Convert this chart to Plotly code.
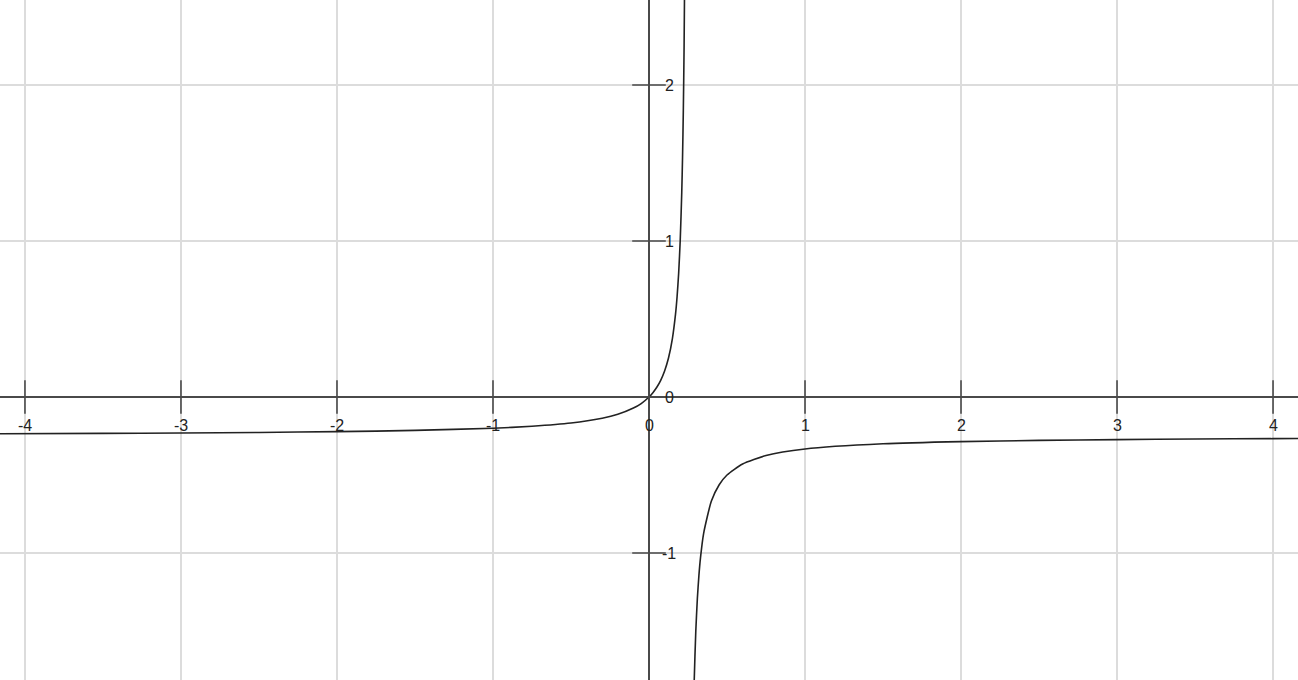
import plotly.graph_objects as go

# Curve points (two branches around the vertical asymptote near x≈0.25)
left_x = [-4.2, -3.5, -3.0, -2.5, -2.0, -1.5, -1.0, -0.75, -0.5, -0.3, -0.2, -0.1, -0.05,
          0.0, 0.025, 0.05, 0.075, 0.1, 0.125, 0.15, 0.17, 0.18, 0.19, 0.2, 0.21, 0.215,
          0.22, 0.225, 0.23]
left_y = [-0.236, -0.233, -0.231, -0.227, -0.222, -0.214, -0.2, -0.1875, -0.167, -0.136,
          -0.111, -0.071, -0.042, 0.0, 0.028, 0.0625, 0.107, 0.167, 0.25, 0.375, 0.531,
          0.643, 0.792, 1.0, 1.3125, 1.536, 1.833, 2.25, 2.875]

right_x = [0.27, 0.28, 0.29, 0.3, 0.31, 0.32, 0.33, 0.35, 0.4, 0.45, 0.5, 0.6, 0.75,
           1.0, 1.5, 2.0, 2.5, 3.0, 3.5, 4.0, 4.2]
right_y = [-3.375, -2.333, -1.8125, -1.5, -1.292, -1.143, -1.031, -0.875, -0.667, -0.5625,
           -0.5, -0.429, -0.375, -0.333, -0.3, -0.286, -0.278, -0.273, -0.269, -0.267, -0.266]

x_ticks = [-4, -3, -2, -1, 0, 1, 2, 3, 4]
x_tick_labels = ["-4", "-3", "-2", "-1", "0", "1", "2", "3", "4"]
y_ticks = [-1, 0, 1, 2]
y_tick_labels = ["-1", "0", "1", "2"]

x_range = [-4.16, 4.16]
y_range = [-1.814, 2.545]

axis_color = "#4a4a4a"
grid_color = "#dcdcdc"
font_family = "Liberation Sans, Arial, sans-serif"

fig = go.Figure()

for bx, by in [(left_x, left_y), (right_x, right_y)]:
    fig.add_trace(go.Scatter(x=bx, y=by, mode="lines", line=dict(color="#222222", width=1.6, shape="spline", smoothing=0.6),
                             hoverinfo="skip", showlegend=False, cliponaxis=True))

# tick marks on the axes
fig.add_trace(go.Scatter(x=x_ticks, y=[0] * len(x_ticks), mode="markers",
                         marker=dict(symbol="line-ns", size=24, line=dict(color=axis_color, width=1.6)),
                         hoverinfo="skip", showlegend=False))
fig.add_trace(go.Scatter(x=[0] * len(y_ticks), y=y_ticks, mode="markers",
                         marker=dict(symbol="line-ew", size=24, line=dict(color=axis_color, width=1.6)),
                         hoverinfo="skip", showlegend=False))

annotations = []
for v, t in zip(x_ticks, x_tick_labels):
    annotations.append(dict(x=v, y=0, xref="x", yref="y", text=t, showarrow=False,
                            yshift=-28, font=dict(family=font_family, size=16, color="#222222")))
for v, t in zip(y_ticks, y_tick_labels):
    annotations.append(dict(x=0, y=v, xref="x", yref="y", text=t, showarrow=False,
                            xshift=20, font=dict(family=font_family, size=16, color="#222222")))

fig.update_layout(
    width=1298, height=680,
    margin=dict(l=0, r=0, t=0, b=0),
    paper_bgcolor="white", plot_bgcolor="white",
    showlegend=False,
    annotations=annotations,
    xaxis=dict(range=x_range, dtick=1, tick0=0, showgrid=True, gridcolor=grid_color, gridwidth=1.5,
               showticklabels=False, ticks="", zeroline=True, zerolinecolor=axis_color, zerolinewidth=2,
               showline=False, fixedrange=True),
    yaxis=dict(range=y_range, dtick=1, tick0=0, showgrid=True, gridcolor=grid_color, gridwidth=1.5,
               showticklabels=False, ticks="", zeroline=True, zerolinecolor=axis_color, zerolinewidth=2,
               showline=False, fixedrange=True),
)

fig.write_html("out.html", config={"displayModeBar": False},
               post_script="document.body.style.margin='0';document.body.style.padding='0';")
